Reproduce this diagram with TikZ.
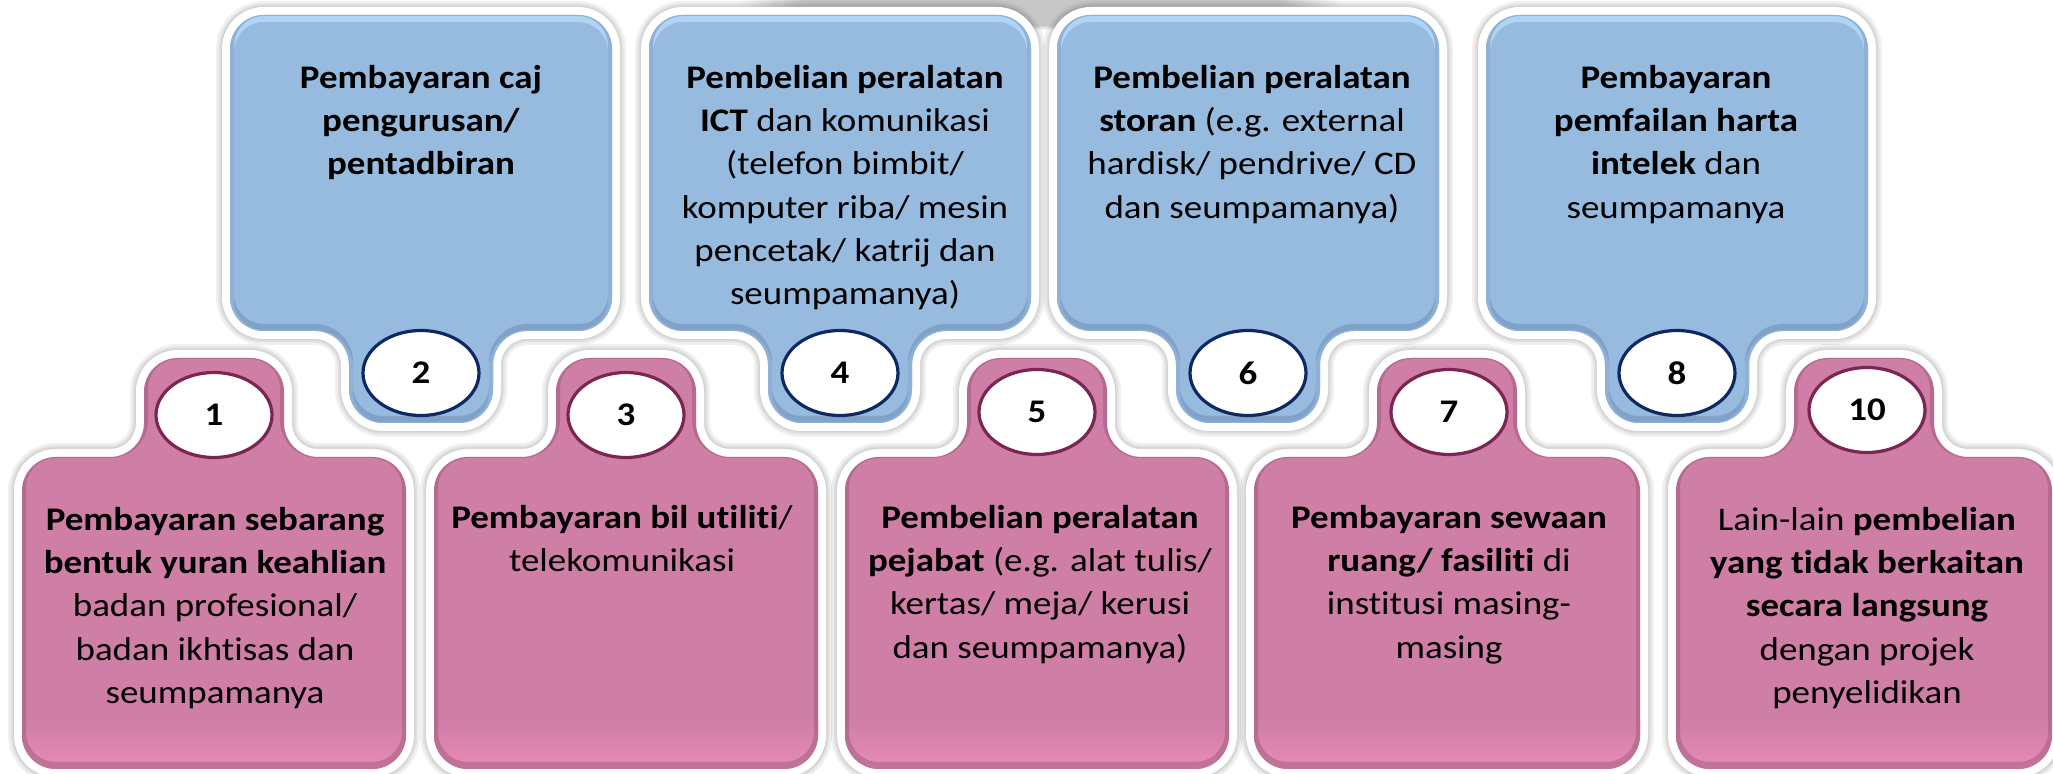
\documentclass[tikz,border=0pt]{standalone}
\usepackage{fontspec}
\setmainfont{Carlito}[FakeStretch=1.12, Ligatures=NoCommon]
\usetikzlibrary{shapes.geometric,fadings}
\definecolor{bluefill}{RGB}{150,187,222}
\definecolor{bluetop}{RGB}{176,212,244}
\definecolor{blueedge}{RGB}{95,125,170}
\definecolor{bluering}{RGB}{14,40,100}
\definecolor{pinkfill}{RGB}{207,126,165}
\definecolor{pinklight}{RGB}{232,140,184}
\definecolor{pinkedge}{RGB}{140,80,110}
\definecolor{pinkring}{RGB}{122,37,82}
\newcommand\myBshape[1]{(#1,15) -- (#1+191,15) -- (#1+191,331) -- (#1+72,331) -- (#1+72,423) -- (#1-72,423) -- (#1-72,331) -- (#1-191,331) -- (#1-191,15) -- cycle}
\newcommand\myPshape[2]{(#1,769) -- (#1-#2,769) -- (#1-#2,457) -- (#1-70,457) -- (#1-70,358) -- (#1+70,358) -- (#1+70,457) -- (#1+#2,457) -- (#1+#2,769) -- cycle}
\tikzset{
  shp/.style={rounded corners=17pt},
  glow/.style={shp, draw=black, opacity=0.06},
  rim/.style={shp, draw=white, line width=8pt},
  txt/.style={align=center, inner sep=0pt, anchor=north, text=black,
    font=\fontsize{16.5}{21.65}\selectfont},
  ring/.style={ellipse, fill=white, line width=1.6pt, minimum width=58pt,
    minimum height=42.5pt, inner sep=0pt, font=\bfseries\fontsize{16.5}{20}\selectfont},
  bring/.style={ring, draw=bluering},
  pring/.style={ring, draw=pinkring}
}
\newcommand\myFirst{\rule{0pt}{13pt}}
\begin{document}
\begin{tikzpicture}[x=0.5pt,y=-0.5pt]
\fill[white] (0,0) rectangle (2053,774);
\useasboundingbox (0,0) rectangle (2053,774);
% soft top shadow
\begin{scope}
  \clip (0,0) rectangle (2053,774);
  \fill[black, opacity=0.22, path fading=circle with fuzzy edge 20 percent] (1040,4) ellipse [x radius=300, y radius=26];
\end{scope}
% glows
\foreach \c in {421,840,1248,1677}{
  \draw[glow, line width=14pt] \myBshape{\c};
  \draw[glow, line width=11.5pt] \myBshape{\c};
  \draw[glow, line width=9.5pt] \myBshape{\c};
}
\foreach \c/\w in {214/192,626/192,1037/192,1447/193,1864/188}{
  \draw[glow, line width=14pt] \myPshape{\c}{\w};
  \draw[glow, line width=11.5pt] \myPshape{\c}{\w};
  \draw[glow, line width=9.5pt] \myPshape{\c}{\w};
}
% white rims
\foreach \c in {421,840,1248,1677}{ \draw[rim] \myBshape{\c}; }
\foreach \c/\w in {214/192,626/192,1037/192,1447/193,1864/188}{ \draw[rim] \myPshape{\c}{\w}; }
% blue bodies
\foreach \c in {421,840,1248,1677}{
  \fill[shp, bluefill] \myBshape{\c};
  \begin{scope}
    \clip[shp] \myBshape{\c};
    \draw[shp, bluetop, line width=4pt, yshift=-1.5pt] \myBshape{\c};
    \draw[shp, blueedge, opacity=0.4, line width=4pt, yshift=1.5pt] \myBshape{\c};
  \end{scope}
}
% pink bodies
\foreach \c/\w in {214/192,626/192,1037/192,1447/193,1864/188}{
  \fill[shp, pinkfill] \myPshape{\c}{\w};
  \begin{scope}
    \clip[shp] \myPshape{\c}{\w};
    \shade[top color=pinkfill, bottom color=pinklight] (\c-200,720) rectangle (\c+200,770);
    \draw[shp, pinkedge, opacity=0.4, line width=4pt, yshift=1.5pt] \myPshape{\c}{\w};
  \end{scope}
}
% number rings
\node[bring] (n2) at (421,373) {2};
\node[bring] (n4) at (840,373) {4};
\node[bring] (n6) at (1248,373) {6};
\node[bring] (n8) at (1677,373) {8};
\node[pring] (n1) at (214,415) {1};
\node[pring] (n3) at (626,415) {3};
\node[pring] (n5) at (1037,412) {5};
\node[pring] (n7) at (1449,412) {7};
\node[pring] (n10) at (1867,410) {10};
% texts
\node[txt] (t2) at (421,62) {\myFirst\textbf{Pembayaran caj}\\\textbf{pengurusan/}\\\textbf{pentadbiran}};
\node[txt] (t4) at (845,62) {\myFirst\textbf{Pembelian peralatan}\\\textbf{ICT} dan komunikasi\\(telefon bimbit/\\komputer riba/ mesin\\pencetak/ katrij dan\\seumpamanya)};
\node[txt] (t6) at (1252,62) {\myFirst\textbf{Pembelian peralatan}\\\textbf{storan} (e.g. external\\hardisk/ pendrive/ CD\\dan seumpamanya)};
\node[txt] (t8) at (1676,62) {\myFirst\textbf{Pembayaran}\\\textbf{pemfailan harta}\\\textbf{intelek} dan\\seumpamanya};
\node[txt] (t1) at (215,504) {\myFirst\textbf{Pembayaran sebarang}\\\textbf{bentuk yuran keahlian}\\badan profesional/\\badan ikhtisas dan\\seumpamanya};
\node[txt] (t3) at (622,502) {\myFirst\textbf{Pembayaran bil utiliti}/\\telekomunikasi};
\node[txt] (t5) at (1040,502) {\myFirst\textbf{Pembelian peralatan}\\\textbf{pejabat} (e.g. alat tulis/\\kertas/ meja/ kerusi\\dan seumpamanya)};
\node[txt] (t7) at (1449,502) {\myFirst\textbf{Pembayaran sewaan}\\\textbf{ruang/ fasiliti} di\\institusi masing-\\masing};
\node[txt] (t10) at (1867,504) {\myFirst Lain-lain \textbf{pembelian}\\\textbf{yang tidak berkaitan}\\\textbf{secara langsung}\\dengan projek\\penyelidikan};
\end{tikzpicture}
\end{document}
